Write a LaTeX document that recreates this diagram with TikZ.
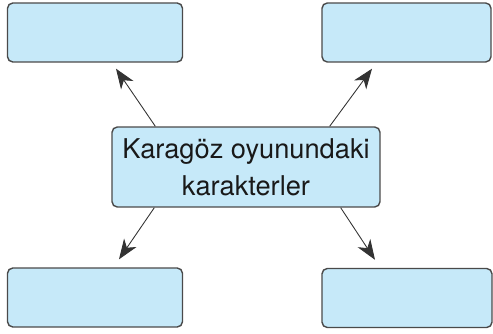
\documentclass[tikz,border=0pt]{standalone}
\usepackage{xcolor}
\usepackage{fontspec}
\setmainfont{TeX Gyre Heros}
\usepackage{tikz}
\usetikzlibrary{arrows.meta}
\definecolor{kutumavi}{HTML}{C6E9F9}
\definecolor{kenar}{HTML}{4A4A4A}
\tikzset{
  kutu/.style={draw=kenar, line width=0.8pt, fill=kutumavi, rounded corners=3pt,
    minimum width=3.5cm, minimum height=1.18cm, inner sep=0pt},
  ok/.style={draw=black!80, line width=0.5pt, -{Stealth[length=0.4cm, width=0.3cm, inset=0.12cm]}}
}

\begin{document}
\begin{tikzpicture}[x=0.02cm, y=-0.02cm]
          \useasboundingbox (0,0) rectangle (493,334);

          \node[kutu, minimum width=5.36cm, minimum height=1.6cm, align=center,
                font=\fontsize{15.5}{21}\selectfont, text=black!90](karakter) at (246,167)
                {Karagöz oyunundaki\\karakterler};

          \node[kutu](solUst) at ( 95,32.5) { };
          \node[kutu, minimum width=3.38cm](sagUst) at (406.5,32.5) { };
          \node[kutu](solAlt) at ( 95,297.5) { };
          \node[kutu, minimum width=3.4cm](sagAlt) at (407,298) { };

          \draw[ok] ([xshift=0.88cm]karakter.north west) -- ([xshift=0.42cm, yshift=-0.12cm]solUst.south);
          \draw[ok] ([xshift=-1.02cm]karakter.north east) -- ([xshift=-0.69cm, yshift=-0.12cm]sagUst.south);
          \draw[ok] ([xshift=0.86cm]karakter.south west) -- ([xshift=0.48cm, yshift=0.16cm]solAlt.north);
          \draw[ok] ([xshift=-0.8cm]karakter.south east) -- ([xshift=-0.64cm, yshift=0.16cm]sagAlt.north);
        \end{tikzpicture}
\end{document}
